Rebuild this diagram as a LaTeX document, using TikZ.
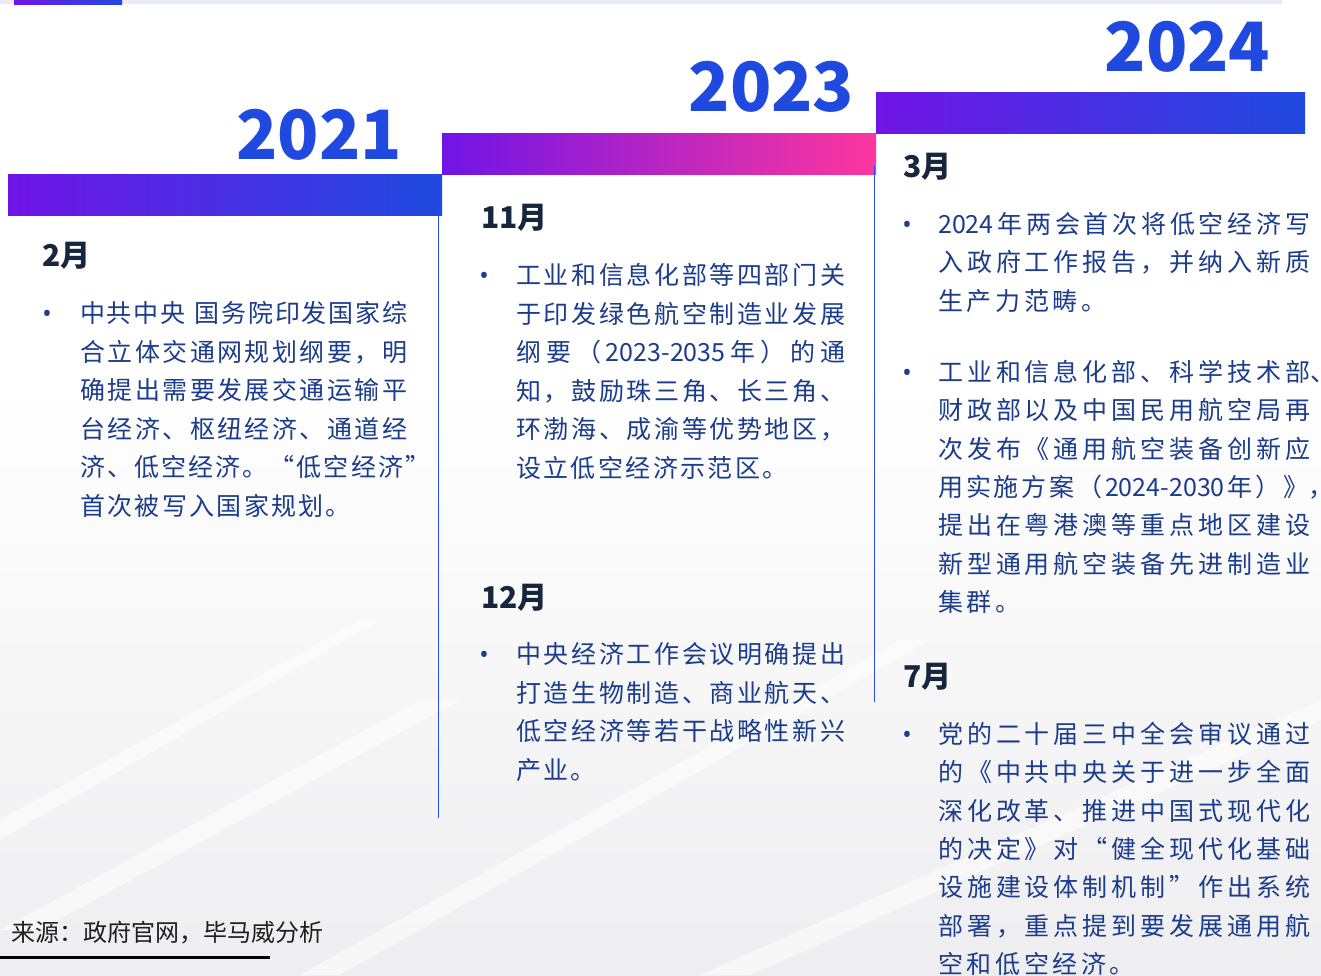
\documentclass[tikz,border=0pt]{standalone}
\usepackage{fontspec}
\setmainfont{Noto Sans CJK SC}
\newfontfamily\cjk{Noto Sans CJK SC}
\newfontfamily\latin{Noto Sans}
\definecolor{purp}{HTML}{7014E6}
\definecolor{blu}{HTML}{1F4AE0}
\definecolor{pinkc}{HTML}{FE369E}
\definecolor{yearc}{HTML}{2049E0}
\definecolor{bodyc}{HTML}{1C3C8C}
\definecolor{monthc}{HTML}{15263D}
\definecolor{vline}{HTML}{2A4AF5}
\definecolor{strip}{HTML}{E9EBF9}
\definecolor{bgc}{HTML}{EEEEF0}
\makeatletter
\def\spreadchars#1{\sp@A#1\sp@end}
\def\sp@A#1{#1\sp@B}
\def\sp@B#1{\def\sp@tmp{#1}\ifx\sp@tmp\sp@endd\else\sp@sep#1\expandafter\sp@B\fi}
\def\sp@endd{\sp@end}
\def\sp@sep{\hfil}
\newcommand\spacedchars[2]{{\def\sp@sep{\hspace*{#1}}\spreadchars{#2}}}
\makeatother
\tikzset{
  txt/.style={anchor=base west, inner sep=0pt, font=\cjk\fontsize{25}{30}\selectfont, text=bodyc},
  bul/.style={anchor=base, inner sep=0pt, font=\latin\fontsize{25}{30}\selectfont, text=bodyc},
  month/.style={anchor=base west, inner sep=0pt, font=\cjk\bfseries\fontsize{30}{36}\selectfont, text=monthc},
  year/.style={anchor=base, inner sep=0pt, font=\cjk\bfseries\fontsize{68}{74}\selectfont, text=yearc},
  vl/.style={draw=vline, line width=1.6pt},
}
\newcommand\jline[5]{\node[txt] (#1) at (#2,#3) {\makebox[#4][s]{\spreadchars{#5}}};}
\newcommand\hangline[6]{\node[txt] (#1) at (#2,#3) {\makebox[#4][s]{\spreadchars{#5}}\rlap{#6}};}
\newcommand\gline[5]{\node[txt] (#1) at (#2,#3) {\spacedchars{#4}{#5}};}
\begin{document}
\begin{tikzpicture}[x=1pt,y=-1pt]
\useasboundingbox (0,0) rectangle (1321,975);
% background
\fill[white] (0,0) rectangle (1321,975);
\shade[top color=white, bottom color=bgc] (0,380) rectangle (1321,975);
\begin{scope}[white, opacity=0.55]
  \fill (0,930) -- (420,700) -- (460,700) -- (40,930) -- cycle;
  \fill (300,975) -- (900,640) -- (930,640) -- (340,975) -- cycle;
  \fill (700,975) -- (1321,700) -- (1321,720) -- (750,975) -- cycle;
  \fill (0,820) -- (360,620) -- (380,620) -- (0,840) -- cycle;
\end{scope}
% top strip
\fill[strip] (0,0) rectangle (1282,4);
\shade[left color=purp, right color=blu] (14,0) rectangle (122,4);
% bars
\shade[left color=purp, right color=blu] (8,174) rectangle (442,215);
\shade[left color=purp, right color=pinkc] (442,133) rectangle (876,174);
\shade[left color=purp, right color=blu] (876,92) rectangle (1305,133);
% vertical lines
\coordinate (v1a) at (438.5,214);
\coordinate (v1b) at (438.5,818);
\coordinate (v2a) at (874.5,166);
\coordinate (v2b) at (874.5,702);
\draw[vl] (v1a) -- (v1b);
\draw[vl] (v2a) -- (v2b);
% years
\node[year] (y1) at (319,159.5) {2021};
\node[year] (y2) at (771.5,111) {2023};
\node[year] (y3) at (1187.5,71) {2024};
% column 1
\node[month] (m1) at (42,266) {2月};
\node[bul] (b1) at (47,322.5) {•};
\jline{a1}{80}{322.5}{327pt}{中共中央~国务院印发国家综}
\jline{a2}{80}{361}{327pt}{合立体交通网规划纲要，明}
\jline{a3}{80}{399.5}{327pt}{确提出需要发展交通运输平}
\jline{a4}{80}{438}{327pt}{台经济、枢纽经济、通道经}
\jline{a5}{80}{476.5}{350pt}{济、低空经济。“低空经济”}
\gline{a6}{80}{515}{2.3pt}{首次被写入国家规划。}
% column 2
\node[month] (m2) at (481,228) {11月};
\node[bul] (b2) at (484,284.5) {•};
\jline{c1}{516}{284.5}{329pt}{工业和信息化部等四部门关}
\jline{c2}{516}{323}{329pt}{于印发绿色航空制造业发展}
\jline{c3}{516}{361.5}{329pt}{纲要（{2023-2035}年）的通}
\jline{c4}{516}{400}{329pt}{知，鼓励珠三角、长三角、}
\jline{c5}{516}{438.5}{329pt}{环渤海、成渝等优势地区，}
\gline{c6}{516}{477}{2.4pt}{设立低空经济示范区。}
\node[month] (m3) at (481,608) {12月};
\node[bul] (b3) at (484,663.5) {•};
\jline{d1}{516}{663.5}{329pt}{中央经济工作会议明确提出}
\jline{d2}{516}{702}{329pt}{打造生物制造、商业航天、}
\jline{d3}{516}{740.5}{329pt}{低空经济等若干战略性新兴}
\gline{d4}{516}{779}{2.4pt}{产业。}
% column 3
\node[month] (m4) at (903,177) {3月};
\node[bul] (b4) at (907,233.5) {•};
\jline{e1}{938}{233.5}{372pt}{{2024}年两会首次将低空经济写}
\jline{e2}{938}{271.8}{372pt}{入政府工作报告，并纳入新质}
\gline{e3}{938}{310.1}{3.6pt}{生产力范畴。}
\node[bul] (b5) at (907,381.5) {•};
\hangline{f1}{938}{381.5}{372pt}{工业和信息化部、科学技术部}{、}
\jline{f2}{938}{419.8}{372pt}{财政部以及中国民用航空局再}
\jline{f3}{938}{458.1}{372pt}{次发布《通用航空装备创新应}
\hangline{f4}{938}{496.4}{370pt}{用实施方案（{2024-2030}年）》}{，}
\jline{f5}{938}{534.7}{372pt}{提出在粤港澳等重点地区建设}
\jline{f6}{938}{573}{372pt}{新型通用航空装备先进制造业}
\gline{f7}{938}{611.3}{3.6pt}{集群。}
\node[month] (m5) at (903,687) {7月};
\node[bul] (b6) at (907,743.5) {•};
\jline{g1}{938}{743.5}{372pt}{党的二十届三中全会审议通过}
\jline{g2}{938}{781.8}{372pt}{的《中共中央关于进一步全面}
\jline{g3}{938}{820.1}{372pt}{深化改革、推进中国式现代化}
\jline{g4}{938}{858.4}{372pt}{的决定》对“健全现代化基础}
\jline{g5}{938}{896.7}{372pt}{设施建设体制机制”作出系统}
\jline{g6}{938}{935}{372pt}{部署，重点提到要发展通用航}
\gline{g7}{938}{973.3}{3.6pt}{空和低空经济。}
% source
\node[anchor=base west, inner sep=0pt, font=\cjk\fontsize{24}{28}\selectfont, text=black!88] (src) at (11,941) {来源：政府官网，毕马威分析};
\coordinate (u1) at (0,957.5);
\coordinate (u2) at (270,957.5);
\draw[line width=2.6pt, black] (u1) -- (u2);
\end{tikzpicture}
\end{document}
